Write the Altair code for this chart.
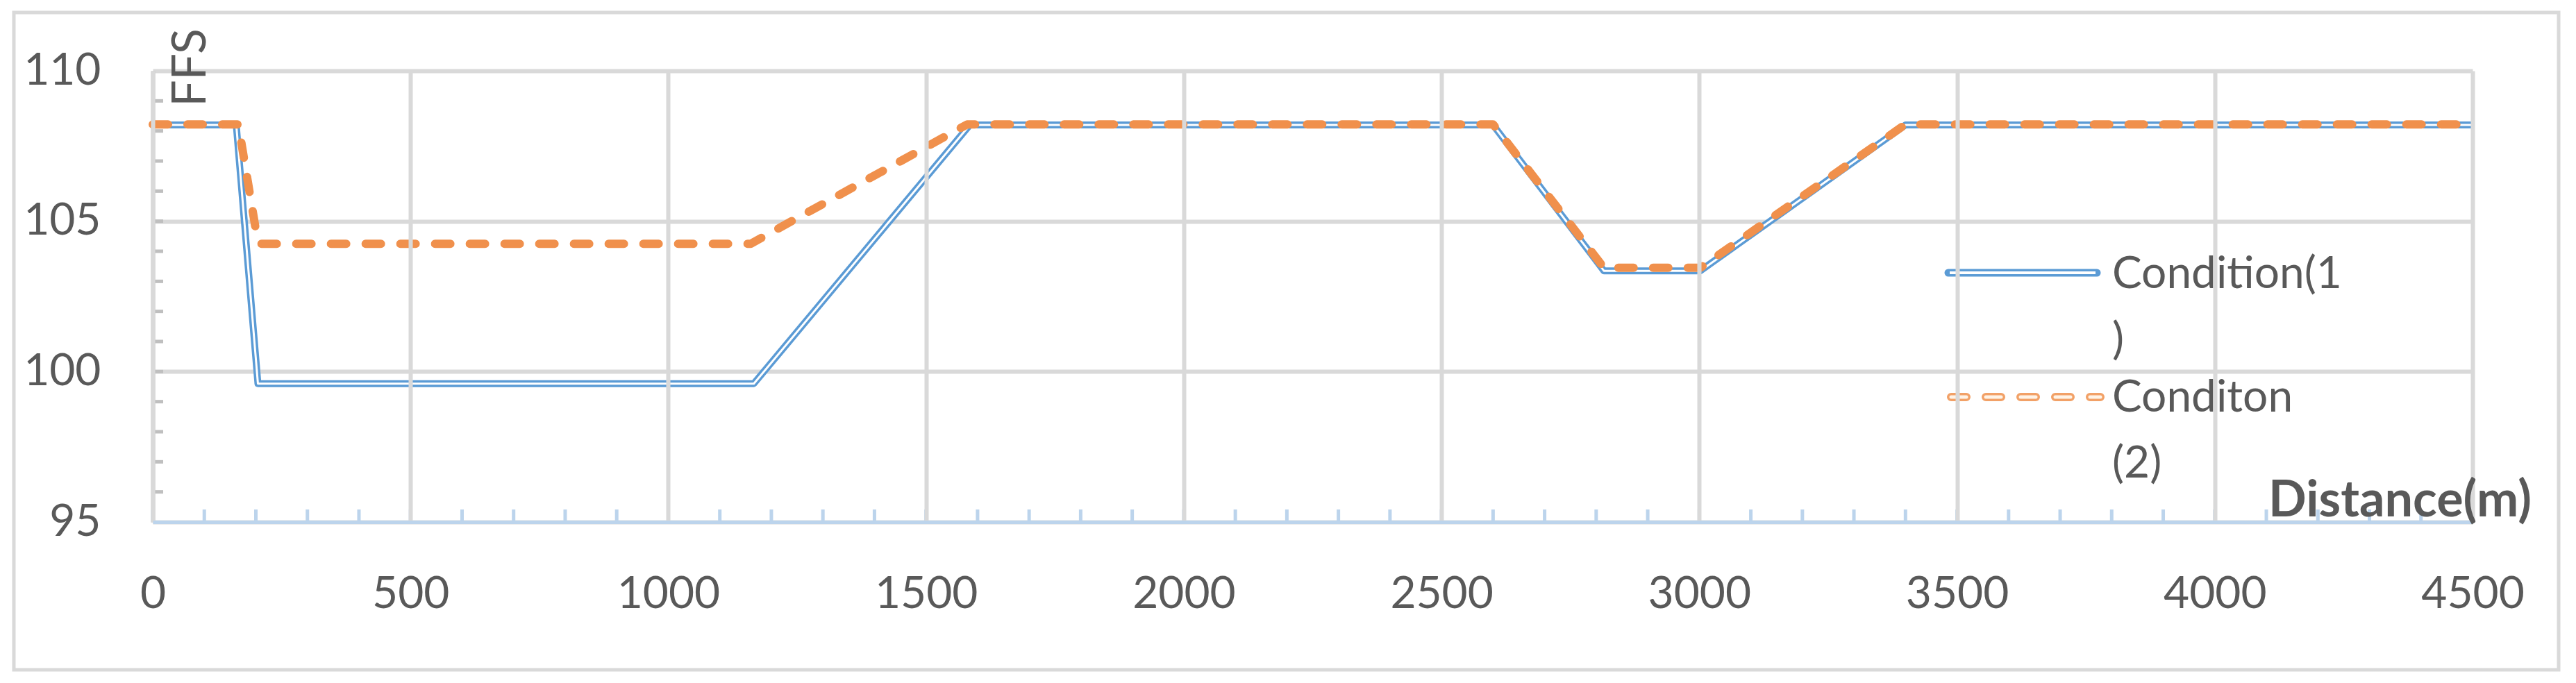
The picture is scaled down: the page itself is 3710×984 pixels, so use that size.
import altair as alt
import pandas as pd

# ---- data ----
dist_c1 = [0, 162, 204, 1166, 1585, 2600, 2815, 3002, 3400, 4500]
ffs_c1 = [108.2, 108.2, 99.6, 99.6, 108.2, 108.2, 103.35, 103.35, 108.2, 108.2]

dist_c2 = [0, 166, 201, 209, 1160, 1580, 2600, 2815, 3002, 3400, 4500]
ffs_c2 = [108.22, 108.22, 104.6, 104.25, 104.25, 108.22, 108.22, 103.45, 103.45, 108.22, 108.22]

series_names = ["Condition(1)", "Conditon (2)"]
legend_lines_1 = ["Condition(1", ")"]
legend_lines_2 = ["Conditon", "(2)"]

x_tick_labels = [0, 500, 1000, 1500, 2000, 2500, 3000, 3500, 4000, 4500]
y_tick_labels = [95, 100, 105, 110]
x_minor_ticks = list(range(0, 4501, 100))
y_minor_ticks = list(range(96, 110))

x_title = "Distance(m)"
y_title = "FFS"

# ---- styling ----
W, H = 3341, 650
FONT = "Lato"
TXT = "#595959"
GRID = "#D9D9D9"
BLUE = "#5B9BD5"
ORANGE = "#F0904C"
AXBLUE = "#BCD4EC"

df1 = pd.DataFrame({"d": dist_c1, "f": ffs_c1, "s": series_names[0]})
df2 = pd.DataFrame({"d": dist_c2, "f": ffs_c2, "s": series_names[1]})
xt = pd.DataFrame({"d": x_minor_ticks})
yt = pd.DataFrame({"f": y_minor_ticks})
one = pd.DataFrame({"k": [0]})

xscale = alt.Scale(domain=[0, 4500], nice=False, zero=False)
yscale = alt.Scale(domain=[95, 110], nice=False, zero=False)

xaxis = alt.Axis(
    values=x_tick_labels, format="d", title=x_title, grid=True, gridColor=GRID, gridWidth=6,
    domainColor=AXBLUE, domainWidth=5, ticks=False, tickSize=0,
    labelFont=FONT, labelFontSize=64, labelColor=TXT, labelPadding=72,
    labelFlush=False, labelOverlap=False, zindex=1,
    titleFont=FONT, titleFontSize=72, titleFontWeight="bold", titleColor=TXT,
    titleX=3236, titleY=-9, titleAlign="center", titleBaseline="alphabetic",
    titleAngle=0,
)
yaxis = alt.Axis(
    values=y_tick_labels, format="d", title=y_title, grid=True, gridColor=GRID, gridWidth=6,
    domainColor="#BFBFBF", domainWidth=6, ticks=False, tickSize=0,
    labelFont=FONT, labelFontSize=64, labelColor=TXT, labelPadding=75,
    labelFlush=False, labelOverlap=False,
    titleFont=FONT, titleFontSize=68, titleFontWeight="normal", titleColor=TXT,
    titleX=75, titleY=-5, titleAlign="center", titleBaseline="alphabetic",
    titleAngle=270,
)

X = alt.X("d:Q", scale=xscale, axis=xaxis)
Y = alt.Y("f:Q", scale=yscale, axis=yaxis)

border = alt.Chart(one).mark_rect(
    fillOpacity=0, stroke=GRID, strokeWidth=5
).encode(x=alt.value(-200), x2=alt.value(3465), y=alt.value(-84), y2=alt.value(863))

y_ticks = alt.Chart(yt).mark_rule(color="#BFBFBF", strokeWidth=5).encode(
    y=Y, x=alt.value(0), x2=alt.value(15)
)
x_ticks = alt.Chart(xt).mark_rule(color=AXBLUE, strokeWidth=5).encode(
    x=X, y=alt.value(H - 18), y2=alt.value(H)
)

blue_outer = alt.Chart(df1).mark_line(
    color=BLUE, strokeWidth=10, strokeJoin="round"
).encode(x=X, y=Y, order="d:Q")
blue_inner = alt.Chart(df1).mark_line(
    color="white", strokeWidth=3, strokeJoin="round"
).encode(x=X, y=Y, order="d:Q")
orange = alt.Chart(df2).mark_line(
    color=ORANGE, strokeWidth=12, strokeDash=[22, 28], strokeCap="round",
    strokeJoin="round"
).encode(x=X, y=Y, order="d:Q")

# ---- legend (drawn manually to reproduce the wrapped labels) ----
leg_blue_o = alt.Chart(one).mark_rule(color=BLUE, strokeWidth=11, strokeCap="round").encode(
    x=alt.value(2586), x2=alt.value(2800), y=alt.value(291)
)
leg_blue_i = alt.Chart(one).mark_rule(color="white", strokeWidth=4).encode(
    x=alt.value(2588), x2=alt.value(2798), y=alt.value(291)
)
leg_or_o = alt.Chart(one).mark_rule(
    color=ORANGE, strokeWidth=12, strokeDash=[22, 28], strokeCap="round", opacity=0.85
).encode(x=alt.value(2590), x2=alt.value(2805), y=alt.value(470))
leg_or_i = alt.Chart(one).mark_rule(
    color="#FFF3E6", strokeWidth=5, strokeDash=[22, 28], strokeCap="round"
).encode(x=alt.value(2590), x2=alt.value(2805), y=alt.value(470))

leg_t1 = alt.Chart(one).mark_text(
    text=legend_lines_1, font=FONT, fontSize=64, color=TXT, align="left",
    baseline="alphabetic", lineHeight=95
).encode(x=alt.value(2822), y=alt.value(313))
leg_t2 = alt.Chart(one).mark_text(
    text=legend_lines_2, font=FONT, fontSize=64, color=TXT, align="left",
    baseline="alphabetic", lineHeight=95
).encode(x=alt.value(2822), y=alt.value(491))

chart = alt.layer(
    border, y_ticks, x_ticks, blue_outer, blue_inner, orange,
    leg_blue_o, leg_blue_i, leg_or_o, leg_or_i, leg_t1, leg_t2,
).properties(
    width=W, height=H,
    autosize=alt.AutoSizeParams(type="none"),
    padding={"left": 212, "top": 94, "right": 133, "bottom": 216},
    background="white",
).configure_view(strokeWidth=0)

chart.save("out.html", embed_options={"renderer": "svg", "actions": False})
